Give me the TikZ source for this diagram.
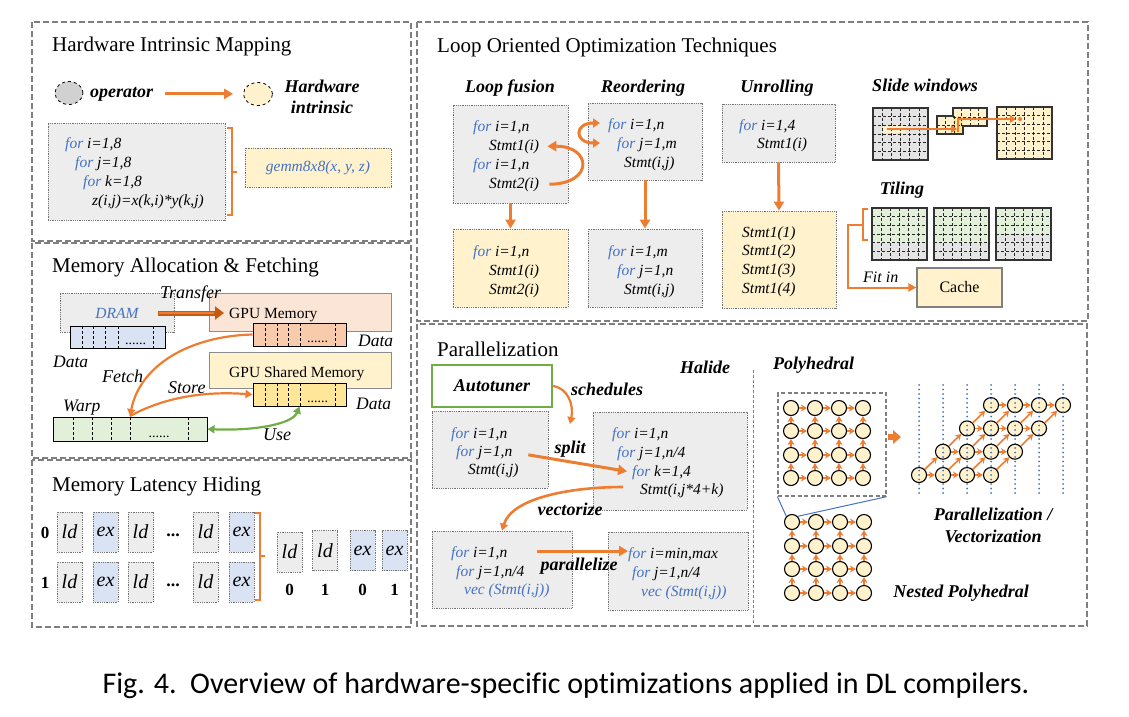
\documentclass[tikz,border=0pt]{standalone}
\usepackage{fontspec}
\setmainfont{Liberation Serif}
\newfontfamily\capfont[Ligatures=NoCommon]{Carlito}
\usepackage{xcolor}
\usepackage{tikz}
\usetikzlibrary{arrows.meta}
\usetikzlibrary{shapes.geometric, positioning}

\definecolor{ppOrange}{HTML}{ED7D31}
\definecolor{ppDark}{HTML}{C55A11}
\definecolor{ppBlue}{HTML}{4472C4}
\definecolor{ppGreen}{HTML}{70AD47}
\definecolor{panelGray}{HTML}{7F7F7F}
\definecolor{grayFill}{HTML}{EDEDED}
\definecolor{gridGray}{HTML}{E4E4E4}
\definecolor{yelFill}{HTML}{FFF2CC}
\definecolor{yelData}{HTML}{FFE699}
\definecolor{blueFill}{HTML}{DAE3F3}
\definecolor{salFill}{HTML}{FBE5D6}
\definecolor{salData}{HTML}{F8CBAD}
\definecolor{grnFill}{HTML}{E2F0D9}

\newcommand{\fsz}[1]{\fontsize{#1}{#1}\selectfont}
\newcommand{\kw}[1]{\textcolor{ppBlue}{#1}}
% dashed cells and frame of a 6x6 mesh: x, y, width, height
\newcommand{\meshgrid}[4]{%
  \foreach \k in {1,...,5}{
    \draw[meshline] ({#1+\k*#3/6},#2) -- ++(0,#4);
    \draw[meshline] (#1,{#2+\k*#4/6}) -- ++(#3,0);
  }
  \draw[line width=1.1pt, black!80] (#1,#2) rectangle ++(#3,#4);}

\tikzstyle{panel} = [draw=panelGray, line width=1.8pt, dash pattern=on 6pt off 3pt]
\tikzstyle{oarrow} = [draw=ppOrange, line width=3pt, -{Triangle[length=9pt,width=10pt]}]
\tikzstyle{carrow} = [draw=ppOrange, line width=2.2pt, -{Triangle[length=7pt,width=8pt]}]
\tikzset{
  codebox/.style={draw=black!55, densely dotted, line width=0.8pt, inner sep=0pt},
  memBox/.style={draw=black!45, line width=0.8pt, inner sep=0pt},
  dataArr/.style={draw=black, line width=1pt, inner sep=0pt},
  cellSep/.style={densely dashed, line width=0.6pt},
  meshline/.style={densely dashed, line width=0.6pt, black!85},
  codeline/.style={anchor=base west, inner sep=0pt, font=\fsz{15.5}\itshape},
  ptitle/.style={anchor=base west, inner sep=0pt, font=\fsz{21}},
  bihead/.style={anchor=base, inner sep=0pt, font=\fsz{18}\bfseries\itshape},
  itlabel/.style={anchor=base west, inner sep=0pt, font=\fsz{17.5}\itshape},
  dotsLbl/.style={anchor=base, inner sep=0pt, font=\fsz{14}},
  latbox/.style={codebox, minimum width=25pt, minimum height=40pt, font=\fsz{20}\itshape},
  numlabel/.style={anchor=base, inner sep=0pt, font=\fsz{17}\bfseries},
  pnode/.style={circle, draw, line width=1.1pt, fill=yelFill, minimum size=15pt, inner sep=0pt},
  parr/.style={draw=ppOrange, line width=1.6pt, -{Stealth[length=6pt,width=7pt]}},
  vdots/.style={draw=ppBlue, line width=2pt, line cap=round, dash pattern=on 0pt off 4.5pt},
}

\begin{document}
\begin{tikzpicture}[x=1pt, y=-1pt]
\useasboundingbox (0,0) rectangle (1129,716);

% Panels
\draw[panel] (32,22) rectangle (411,241);
\draw[panel] (32,243) rectangle (411,458);
\draw[panel] (32,460) rectangle (411,627);
\draw[panel] (417,22) rectangle (1088,321);
\draw[panel] (417,324) rectangle (1087,626);

% ---- Hardware intrinsic mapping
\node[ptitle] (hm-title) at (52,51) {Hardware Intrinsic Mapping};
\node[ellipse, draw, dashed, line width=0.8pt, fill=black!18, minimum width=28pt, minimum height=23pt] (op-ell) at (69,93) {};
\node[anchor=base west, inner sep=0pt, font=\fsz{18}\bfseries\itshape] (op-txt) at (90,97) {operator};
\node[ellipse, draw, dashed, line width=0.8pt, fill=yelFill, minimum width=29pt, minimum height=23pt] (hw-ell) at (258,94) {};
\node[bihead] (hw-txt1) at (322,92) {Hardware};
\node[bihead] (hw-txt2) at (322,113) {intrinsic};
\draw[oarrow, shorten <=12pt, shorten >=10pt] (op-txt.east) -- (op-txt.east -| hw-ell.west);

\node[codebox, fill=grayFill, minimum width=177pt, minimum height=97pt] (hm-box) at (136.5,171.5) {};
\node[codeline] (hm-l1) at (65,148) {\kw{for} i=1,8};
\node[codeline] (hm-l2) at (75,167) {\kw{for} j=1,8};
\node[codeline] (hm-l3) at (83,186) {\kw{for} k=1,8};
\node[codeline] (hm-l4) at (92,205) {z(i,j)=x(k,i)*y(k,j)};
\draw[ppOrange, line width=2pt] (227,128) -- (232,128) -- (232,215) -- (227,215) (232,172) -- (237,172);
\node[codebox, fill=yelFill, minimum width=146pt, minimum height=39pt, font=\fsz{15.5}\itshape, text=ppBlue] (gemm) at (318,167.5) {gemm8x8(x, y, z)};

% ---- Memory allocation & fetching
\node[ptitle] (ma-title) at (52,272) {Memory Allocation \& Fetching};
\node[codebox, fill=grayFill, minimum width=114pt, minimum height=39pt] (dram-box) at (117,312.5) {};
\node[anchor=base, inner sep=0pt, font=\fsz{15.5}\itshape, text=ppBlue] (dram-txt) at (117,318) {DRAM};
\node[memBox, fill=salFill, minimum width=182pt, minimum height=38pt] (gm-box) at (300,312) {};
\node[anchor=base west, inner sep=0pt, font=\fsz{15.5}] (gm-txt) at (229,318) {GPU Memory};
\node[memBox, fill=yelFill, minimum width=182pt, minimum height=36pt] (sm-box) at (300,370) {};
\node[anchor=base west, inner sep=0pt, font=\fsz{15.5}] (sm-txt) at (229,377) {GPU Shared Memory};

% data arrays
\node[dataArr, fill=blueFill, minimum width=95pt, minimum height=22pt] (dr-data) at (117.5,337) {};
\foreach \x in {82,93,105,118,153} \draw[cellSep] (\x,326) -- (\x,348);
\node[dotsLbl] (dr-dots) at (135.5,344) {......};
\node[dataArr, fill=salData, minimum width=93pt, minimum height=23pt] (gm-data) at (299.5,334.5) {};
\foreach \x in {265,277,288,300,335} \draw[cellSep] (\x,323) -- (\x,346);
\node[dotsLbl] (gm-dots) at (317.5,342) {......};
\node[dataArr, fill=yelData, minimum width=93pt, minimum height=23pt] (sm-data) at (299.5,394.5) {};
\foreach \x in {265,277,288,300,335} \draw[cellSep] (\x,383) -- (\x,406);
\node[dotsLbl] (sm-dots) at (317.5,402) {......};
\node[dataArr, fill=grnFill, minimum width=154pt, minimum height=24pt] (warp-data) at (130,429) {};
\foreach \x in {73,92,111,130,188} \draw[cellSep] (\x,417) -- (\x,441);
\node[dotsLbl] (wp-dots) at (159,437) {......};

\node[itlabel, font=\fsz{18}\itshape] (tr-lbl) at (160,298) {Transfer};
\node[itlabel] (dr-lbl) at (53,367) {Data};
\node[itlabel] (gm-lbl) at (358,346) {Data};
\node[itlabel] (sm-lbl) at (356,409) {Data};
\node[itlabel] (wp-lbl) at (63,411) {Warp};
\node[itlabel, font=\fsz{18}\itshape] (fe-lbl) at (102,382) {Fetch};
\node[itlabel, font=\fsz{18}\itshape] (st-lbl) at (168,393) {Store};
\node[itlabel, font=\fsz{18}\itshape] (us-lbl) at (263,440) {Use};

% transfer, fetch, store and use
\coordinate (tr-a) at (158,313);
\coordinate (tr-b) at (224,313);
\draw[draw=ppDark, line width=5pt, -{Triangle[length=9pt,width=13pt]}] (tr-a) -- (tr-b);
\draw[ppOrange, line width=1.6pt, shorten >=10pt, shorten <=1pt] (tr-a) -- (tr-b);
\coordinate (warp-tip) at (130,416);
\draw[carrow] (gm-data.west) .. controls (190,336) and (140,365) .. (warp-tip);
\draw[carrow] (warp-tip) .. controls (165,397) and (205,391) .. (sm-data.west);
\draw[draw=ppGreen, line width=2.2pt, {Triangle[length=7pt,width=8pt]}-{Triangle[length=7pt,width=8pt]}] (warp-data.east) .. controls (250,431) and (292,425) .. (sm-data.south);

% ---- Memory latency hiding
\node[ptitle] (ml-title) at (52,491) {Memory Latency Hiding};
\foreach \r/\yy in {0/532,1/582}{
  \node[numlabel] (ml-row\r) at (45,{\yy+6}) {\r};
  \foreach \xx/\lbl/\fillc [count=\i] in {69.5/ld/grayFill,105.5/ex/blueFill,140.5/ld/grayFill,205.5/ld/grayFill,241.5/ex/blueFill}{
    \node[latbox, fill=\fillc] (ml-\r-\i) at (\xx,\yy) {\lbl};
  }
  \node[anchor=base, inner sep=0pt, font=\fsz{18}\bfseries] (ml-dots\r) at (173,{\yy+4}) {...};
}
\draw[ppOrange, line width=2pt] (255,513) -- (260,513) -- (260,600) -- (255,600) (260,556) -- (265,556);
\foreach \xx/\yy/\lbl/\fillc/\nn [count=\i] in {289.5/552/ld/grayFill/0, 325/550.5/ld/grayFill/1, 362.5/550.5/ex/blueFill/0, 394.5/550.5/ex/blueFill/1}{
  \node[latbox, fill=\fillc] (mr-\i) at (\xx,\yy) {\lbl};
  \node[numlabel] (mr-n\i) at (\xx,595) {\nn};
}

% ---- Loop oriented optimization techniques
\node[ptitle] (lo-title) at (437,52) {Loop Oriented Optimization Techniques};
\node[bihead] (lf-head) at (510,92) {Loop fusion};
\node[bihead] (ro-head) at (643,92) {Reordering};
\node[bihead] (ur-head) at (777,92) {Unrolling};
\node[bihead] (sw-head) at (925,91) {Slide windows};
\node[bihead] (tl-head) at (902,194) {Tiling};

% loop fusion
\node[codebox, fill=grayFill, minimum width=115pt, minimum height=98pt] (lf-box) at (510.5,154) {};
\node[codeline] (lf-l1) at (473,131) {\kw{for} i=1,n};
\node[codeline] (lf-s1) at (489,150) {Stmt1(i)};
\node[codeline] (lf-l3) at (473,169) {\kw{for} i=1,n};
\node[codeline] (lf-s2) at (489,188) {Stmt2(i)};
\draw[oarrow, shorten <=10pt, shorten >=8pt] (lf-s2.east) .. controls (594,184) and (592,146) .. (lf-s1.east);
\node[codebox, fill=yelFill, minimum width=115pt, minimum height=78pt] (lf-res) at (510.5,268) {};
\node[codeline] (lf-r1) at (473,256) {\kw{for} i=1,n};
\node[codeline] (lf-r2) at (489,275) {Stmt1(i)};
\node[codeline] (lf-r3) at (489,294) {Stmt2(i)};
\draw[oarrow] (lf-box.south) -- (lf-res.north);

% reordering
\node[codebox, fill=grayFill, minimum width=114pt, minimum height=77pt] (ro-box) at (645,141.5) {};
\node[codeline] (ro-l1) at (608,129) {\kw{for} i=1,n};
\node[codeline] (ro-l2) at (617,148) {\kw{for} j=1,m};
\node[codeline] (ro-l3) at (624,167) {Stmt(i,j)};
\coordinate (ro-sa) at (600,123);
\coordinate (ro-sb) at (600,143);
\draw[draw=ppOrange, line width=3pt, {Triangle[length=7pt,width=9pt]}-{Triangle[length=7pt,width=9pt]}] (ro-sa) .. controls (574,123) and (574,143) .. (ro-sb);
\node[codebox, fill=grayFill, minimum width=114pt, minimum height=78pt] (ro-res) at (645,268) {};
\node[codeline] (ro-r1) at (608,256) {\kw{for} i=1,m};
\node[codeline] (ro-r2) at (617,275) {\kw{for} j=1,n};
\node[codeline] (ro-r3) at (624,294) {Stmt(i,j)};
\draw[oarrow] (ro-box.south) -- (ro-res.north);

% unrolling
\node[codebox, fill=grayFill, minimum width=113pt, minimum height=58pt] (ur-box) at (778.5,133) {};
\node[codeline] (ur-l1) at (739,130) {\kw{for} i=1,4};
\node[codeline] (ur-l2) at (757,148) {Stmt1(i)};
\node[codebox, fill=yelFill, minimum width=114pt, minimum height=97pt] (ur-res) at (779,259.5) {};
\foreach \k/\yy in {1/237,2/255,3/274,4/293}
  \node[codeline] (ur-r\k) at (742,\yy) {Stmt1(\k)};
\draw[oarrow] (ur-box.south) -- (ur-res.north);

% slide windows
\fill[gridGray] (873,108) rectangle ++(55,52);
\fill[yelFill] (883,126) rectangle (905,133);
\meshgrid{873}{108}{55}{52}
\fill[yelFill] (937,116) rectangle ++(26,18);
\fill[yelFill] (953,108) rectangle ++(34,18);
\fill[yelData] (953,116) rectangle (963,134);
\foreach \x in {945.7,954.3} \draw[meshline] (\x,116) -- (\x,134);
\draw[meshline] (937,125) -- (963,125);
\foreach \x in {961.5,970,978.5} \draw[meshline] (\x,108) -- (\x,126);
\draw[meshline] (953,117) -- (987,117);
\draw[line width=1.1pt, black!80] (937,116) -- (953,116) -- (953,108) -- (987,108) -- (987,126) -- (963,126) -- (963,134) -- (937,134) -- cycle;
\fill[yelFill] (997,107) rectangle ++(55,52);
\meshgrid{997}{107}{55}{52}
\coordinate (sw-a) at (887,129);
\coordinate (sw-b) at (957,129);
\coordinate (sw-c) at (958,132);
\coordinate (sw-d) at (1016,119);
\draw[ppOrange, line width=2.5pt, -{Triangle[length=6pt,width=7.5pt]}] (sw-a) -- (sw-b);
\draw[ppOrange, line width=2.5pt, -{Triangle[length=6pt,width=7.5pt]}] (sw-c) |- (sw-d);
\fill[ppOrange] (1020,119) circle (2);

% tiling
\foreach \xx/\rows in {872/4, 934/4, 996/3}{
  \fill[gridGray] (\xx,208) rectangle ++(55,52);
  \fill[grnFill] (\xx,208) rectangle ++(55,{\rows*52/6});
  \meshgrid{\xx}{208}{55}{52}
}
\draw[ppOrange, line width=2pt] (868,209) -- (863,209) -- (863,240) -- (868,240);
\coordinate (tl-br) at (863,225);
\node[memBox, fill=yelFill, draw=black!50, line width=1.2pt, minimum width=85pt, minimum height=39pt, font=\fsz{16}] (cache) at (959.5,287.5) {Cache};
\draw[ppOrange, line width=2pt, -{Triangle[length=8pt,width=8pt]}] (tl-br) -- (848,225) |- (cache.west);
\node[itlabel, font=\fsz{16}\itshape] (fit-lbl) at (863,282) {Fit in};

% ---- Parallelization
\node[ptitle] (pa-title) at (437,356) {Parallelization};
\node[bihead] (hal-head) at (705,373) {Halide};
\draw[draw=black!50, densely dashed, line width=0.6pt] (753,370) -- (753,625);
\node[draw=ppGreen, line width=1.5pt, fill=white, minimum width=120pt, minimum height=42pt, inner sep=0pt, font=\fsz{18}\bfseries\itshape] (auto-box) at (492,386) {Autotuner};
\node[bihead] (sch-lbl) at (607,395) {schedules};
\coordinate (sch-tip) at (570,424);
\draw[carrow] (auto-box.east) .. controls (568,388) and (574,405) .. (sch-tip);

\node[codebox, fill=grayFill, minimum width=116pt, minimum height=77pt] (pa-box) at (490,449.5) {};
\node[codeline] (pa-l1) at (451,438) {\kw{for} i=1,n};
\node[codeline] (pa-l2) at (456,456) {\kw{for} j=1,n};
\node[codeline] (pa-l3) at (468,474) {Stmt(i,j)};
\node[codebox, fill=grayFill, minimum width=154pt, minimum height=98pt] (pb-box) at (670,461) {};
\node[codeline] (pb-l1) at (612,438) {\kw{for} i=1,n};
\node[codeline] (pb-l2) at (617,457) {\kw{for} j=1,n/4};
\node[codeline] (pb-l3) at (632,476) {\kw{for} k=1,4};
\node[codeline] (pb-l4) at (640,494) {Stmt(i,j*4+k)};
\draw[oarrow, shorten <=16pt, shorten >=5pt] (pa-l2.east) -- (pb-l3.west);
\node[bihead] (spl-lbl) at (570,453) {split};

\node[codebox, fill=grayFill, minimum width=140pt, minimum height=77pt] (pc-box) at (502,569.5) {};
\node[codeline] (pc-l1) at (451,557) {\kw{for} i=1,n};
\node[codeline] (pc-l2) at (456,576) {\kw{for} j=1,n/4};
\node[codeline, text=ppBlue] (pc-l3) at (464,594) {vec (Stmt(i,j))};
\node[codebox, fill=grayFill, minimum width=140pt, minimum height=78pt] (pd-box) at (678,571) {};
\node[codeline] (pd-l1) at (628,558) {\kw{for} i=min,max};
\node[codeline] (pd-l2) at (632,577) {\kw{for} j=1,n/4};
\node[codeline, text=ppBlue] (pd-l3) at (641,596) {vec (Stmt(i,j))};
\coordinate (vec-a) at (623,487);
\draw[carrow, line width=2.6pt] (vec-a) .. controls (570,487) and (512,498) .. (pc-box.north);
\node[bihead] (vec-lbl) at (570,515) {vectorize};
\coordinate (par-a) at (537,551);
\draw[oarrow] (par-a) -- (par-a -| pd-l1.west);
\node[bihead] (par-lbl) at (579,570) {parallelize};

% ---- Polyhedral
\node[anchor=base west, inner sep=0pt, font=\fsz{18}\bfseries\itshape] (ph-head) at (773,369) {Polyhedral};
\node[draw=panelGray, line width=1.3pt, dash pattern=on 4pt off 2.5pt, minimum width=108pt, minimum height=103pt, inner sep=0pt] (ph-box) at (832,444.5) {};
\foreach \r/\yy in {0/478,1/455,2/431,3/408}{
  \foreach \c/\xx in {0/791,1/815,2/839,3/863}{
    \node[pnode] (p-\r-\c) at (\xx,\yy) {};
  }
}
\foreach \r/\yy in {0/593,1/569,2/546,3/522}{
  \foreach \c/\xx in {0/792,1/816,2/840,3/864}{
    \node[pnode] (q-\r-\c) at (\xx,\yy) {};
  }
}
\foreach \r in {0,...,3}{
  \foreach \c in {0,...,3}{
    \node[pnode] (s-\r-\c) at ({919+(\r+\c)*24},{475-\r*23.3}) {};
  }
}
% dependences
\foreach \g in {p,q,s}{
  \foreach \r in {0,...,3}{
    \foreach \c [count=\n] in {0,1,2}{
      \draw[parr] (\g-\r-\c) -- (\g-\r-\n);
    }
  }
  \foreach \r [count=\n] in {0,1,2}{
    \foreach \c in {0,...,3}{
      \draw[parr] (\g-\r-\c) -- (\g-\n-\c);
    }
  }
}
\foreach \k in {0,...,6} \draw[vdots] ({919+\k*24},385) -- ({919+\k*24},496);
\draw[ppBlue, line width=1pt] (ph-box.south west) -- (q-3-0.north west);
\draw[ppBlue, line width=1pt] (ph-box.south east) -- (q-3-0.north east);
\fill[ppOrange] (888,434) -- (893,434) -- (893,430) -- (901,437) -- (893,444) -- (893,440) -- (888,440) -- cycle;
\node[bihead] (pv-l1) at (993,520) {Parallelization /};
\node[bihead] (pv-l2) at (993,542) {Vectorization};
\node[bihead] (np-lbl) at (961,597) {Nested Polyhedral};

% ---- Caption
\node[anchor=base, inner sep=0pt, font=\capfont\fsz{30}] (cap) at (566,693) {Fig. 4.\ \ Overview of hardware-specific optimizations applied in DL compilers.};
\end{tikzpicture}
\end{document}
